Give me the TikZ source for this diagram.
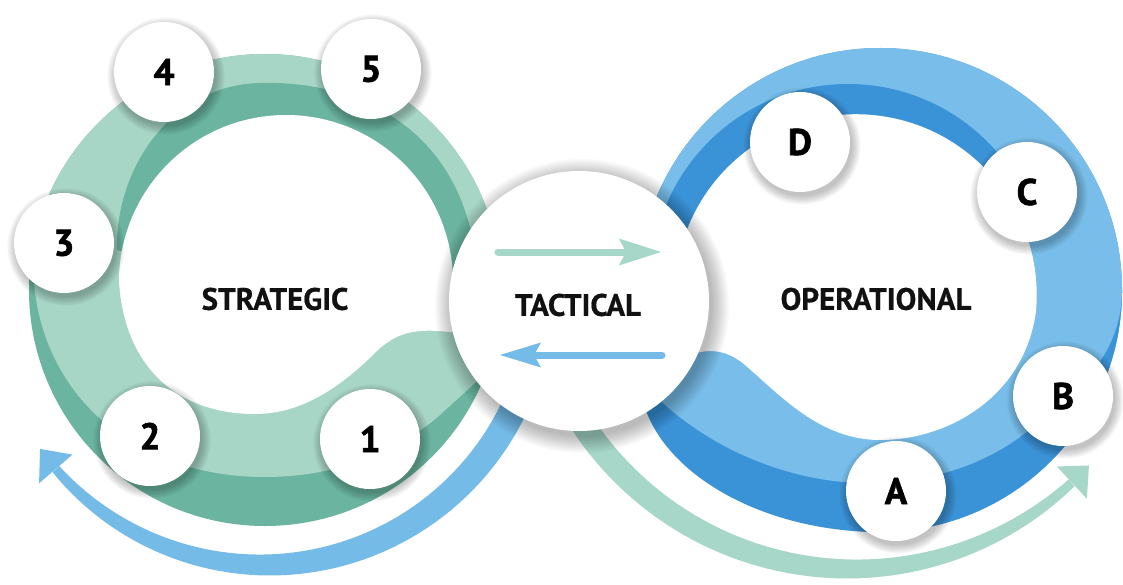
\documentclass[tikz,border=0pt]{standalone}
\usepackage{fontspec}
\setmainfont{PT Sans}
\newfontfamily\numfont{PT Sans}[BoldFeatures={FakeBold=1.6}]
\newfontfamily\lblfont{PT Sans}[BoldFeatures={FakeBold=0.6}]
\definecolor{gl}{HTML}{A7D5C6}
\definecolor{gd}{HTML}{6BB4A0}
\definecolor{bl}{HTML}{79BEEA}
\definecolor{bd}{HTML}{3B93D7}
\definecolor{ga}{HTML}{A6D7C9}
\definecolor{ba}{HTML}{74BBE8}
\definecolor{txt}{HTML}{111111}
\begin{document}
\begin{tikzpicture}[x=1pt,y=-1pt,
  numc/.style={circle,fill=white,minimum size=100pt,inner sep=0pt,font=\numfont\fontsize{37}{37}\selectfont\bfseries,text=black},
  tacc/.style={circle,fill=white,minimum size=260pt,inner sep=0pt},
  lbl/.style={font=\lblfont\fontsize{31}{31}\selectfont\bfseries,text=txt,inner sep=0pt},
  declare function={bwb(\t)=13.5-9*\t*\t; bwg(\t)=12-7.5*\t*\t;}]
\useasboundingbox (0,0) rectangle (1123,585);
\fill[white] (0,0) rectangle (1123,585);

% ---------- lower arrows (behind) ----------
\fill[ba] plot[domain=0:1,samples=60] ({265+(276+bwb(\x))*cos(22+117.3*\x)},{289+(276+bwb(\x))*sin(22+117.3*\x)})
  -- plot[domain=0:1,samples=60] ({265+(276-bwb(1-\x))*cos(139.3-117.3*\x)},{289+(276-bwb(1-\x))*sin(139.3-117.3*\x)}) -- cycle;
\fill[ba] ({265+254*cos(139.3)},{289+254*sin(139.3)}) -- ({265+276*cos(144.6)},{289+276*sin(144.6)}) -- ({265+298*cos(139.3)},{289+298*sin(139.3)}) -- cycle;

\fill[ga] plot[domain=0:1,samples=60] ({852+(323+bwg(\x))*cos(150-102.9*\x)},{246+(323+bwg(\x))*sin(150-102.9*\x)})
  -- plot[domain=0:1,samples=60] ({852+(323-bwg(1-\x))*cos(47.1+102.9*\x)},{246+(323-bwg(1-\x))*sin(47.1+102.9*\x)}) -- cycle;
\fill[ga] ({852+301*cos(47.1)},{246+301*sin(47.1)}) -- ({852+323*cos(42.8)},{246+323*sin(42.8)}) -- ({852+345*cos(47.1)},{246+345*sin(47.1)}) -- cycle;

% ---------- green lobe ----------
\fill[gd] (265,290) circle[radius=236];
\begin{scope}
  \clip (-10,-10) -- (585,-10) -- (585,301) -- (265,290) -- (64,241) -- (-10,223) -- cycle;
  \fill[gl] (265,290) circle[radius=236];
  \fill[gd] (117,250) .. controls (115,170) and (170,85) .. (260,83) .. controls (370,80) and (480,140) .. (478,300)
    -- (300,300) -- cycle;
\end{scope}
\begin{scope}
  \clip (-10,223) -- (64,241) -- (265,290) -- (585,301) -- (585,600) -- (-10,600) -- cycle;
  \fill[gl] (33,265) .. controls (35,390) and (130,477) .. (265,477) .. controls (340,477) and (400,450) .. (440,415)
    -- (500,360) -- (590,301) -- (265,288) -- (64,239) -- cycle;
\end{scope}
\fill[white] (119,282) arc[start angle=180, end angle=360, radius=167] -- (458,333)
  .. controls (420,328) and (400,330) .. (378,350) .. controls (345,383) and (305,414) .. (255,414)
  .. controls (180,414) and (125,370) .. (119,282) -- cycle;

% ---------- blue lobe ----------
\fill[bd] (880,290) circle[radius=242];
\fill[bd] (600,320) -- (645,408) .. controls (670,480) and (770,532) .. (880,532) -- (880,290) -- cycle;
\begin{scope}
  \clip (560,-10) -- (1130,-10) -- (1130,433) -- (1063,394) -- (880,290) -- (579,301) -- (560,301) -- cycle;
  \fill[bl] (880,290) circle[radius=242];
  \begin{scope}
    \clip (856,295) -- (1200,88) -- (1200,-10) -- (560,-10) -- (560,301) -- cycle;
    \fill[bd] (848,281) circle[radius=197];
  \end{scope}
  \begin{scope}
    \clip (880,290) -- (1140,290) -- (1140,438) -- cycle;
    \fill[bd] (880,290) circle[radius=242];
    \fill[bl] (995,290) circle[radius=127];
  \end{scope}
\end{scope}
\fill[bl] (1035,425) .. controls (995,460) and (940,482) .. (870,483) .. controls (800,484) and (720,455) .. (663,403)
  -- (600,330) -- (700,300) -- (1000,320) -- (1045,400) -- cycle;
\fill[white] (1036,311) arc[start angle=5, end angle=-200, radius=181]
  .. controls (705,348) and (725,348) .. (745,365) .. controls (780,395) and (820,440) .. (880,440)
  .. controls (950,440) and (1025,395) .. (1036,311) -- cycle;

% ---------- tactical ----------
\foreach \k in {1,...,12} { \fill[black,opacity=0.025] (582,306) circle[radius=129+\k*1.5]; }
\node[tacc] (tac) at (579,301) {};
\draw[ga, line width=7pt, line cap=round] (498,252) -- (628,252);
\fill[ga] (661,252) -- (619,238.5) -- (626,252) -- (619,265.5) -- cycle;
\draw[ba, line width=7pt, line cap=round] (662,355) -- (532,355);
\fill[ba] (500,355) -- (541,342.5) -- (534,355) -- (541,367.5) -- cycle;
\node[lbl] (tl) at (578,305) {TACTICAL};

% ---------- labels ----------
\node[lbl] (sl) at (275,299) {STRATEGIC};
\node[lbl] (ol) at (876,299) {OPERATIONAL};

% ---------- numbered circles ----------
\foreach \cx/\cy in {164/72, 371/69, 64/243, 150/436, 370/439, 800/142, 1027/192, 1063/396, 896/491} {
  \foreach \k in {1,...,8} { \fill[black,opacity=0.03] (\cx+2,\cy+4) circle[radius=49+\k*1.2]; }
}
\node[numc] (n4) at (164,72) {4};
\node[numc] (n5) at (371,69) {5};
\node[numc] (n3) at (64,243) {3};
\node[numc] (n2) at (150,436) {2};
\node[numc] (n1) at (370,439) {1};
\node[numc] (nD) at (800,142) {D};
\node[numc] (nC) at (1027,192) {C};
\node[numc] (nB) at (1063,396) {B};
\node[numc] (nA) at (896,491) {A};
\end{tikzpicture}
\end{document}
